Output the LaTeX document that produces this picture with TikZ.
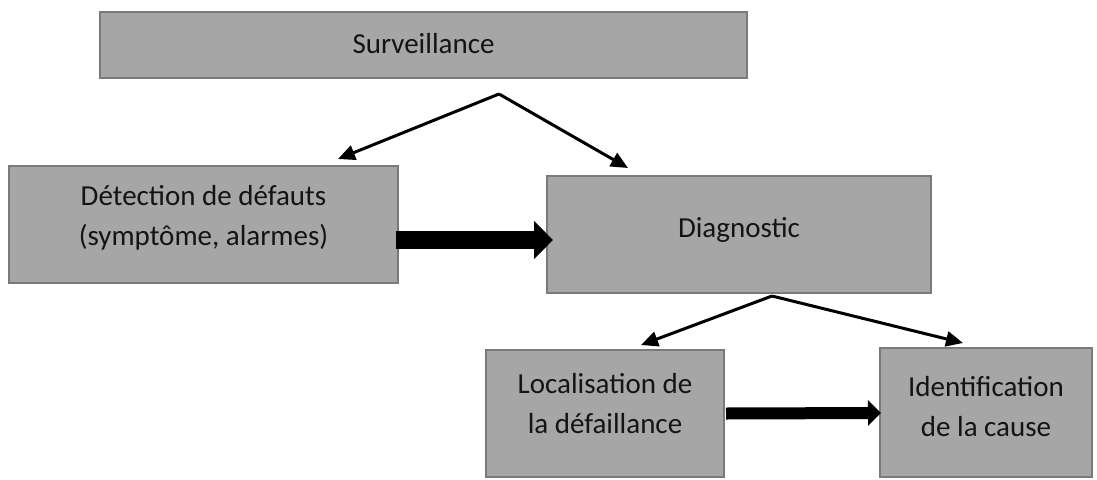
\documentclass[tikz,border=0pt]{standalone}
\usepackage{fontspec}
\setmainfont{Carlito}
\usetikzlibrary{arrows.meta}

\definecolor{boxfill}{HTML}{A6A6A6}
\definecolor{boxline}{HTML}{7A7A7A}
\definecolor{ink}{HTML}{141414}

\tikzset{
  box/.style={draw=boxline, fill=boxfill, line width=2.2pt, rectangle,
    anchor=north west, inner sep=0pt, outer sep=0pt},
  txt/.style={anchor=base, inner sep=0pt, text=ink,
    font=\fontsize{29}{40}\selectfont},
  link/.style={line width=3pt, draw=black,
    -{Triangle[length=17pt, width=15pt]}},
  fat/.style={draw=black, -{Triangle[length=19pt, width=37pt]}}
}

\begin{document}
\begin{tikzpicture}[x=1pt, y=-1pt]
  \useasboundingbox (0,0) rectangle (1097,479);

  % boxes
  \node[box, minimum width=647pt, minimum height=66pt]  (surv)  at (100,12)  {};
  \node[box, minimum width=389pt, minimum height=117pt] (det)   at (9,166)   {};
  \node[box, minimum width=384pt, minimum height=117pt] (diag)  at (547,176) {};
  \node[box, minimum width=238pt, minimum height=127pt] (loc)   at (486,350) {};
  \node[box, minimum width=212pt, minimum height=129pt] (ident) at (880,348) {};

  % labels
  \node[txt] (surv-t)   at (423.5,53) {Surveillance};
  \node[txt] (det-t1)   at (203.5,205) {Détection de défauts};
  \node[txt] (det-t2)   at (203.5,245) {(symptôme, alarmes)};
  \node[txt] (diag-t)   at (739,237)  {Diagnostic};
  \node[txt] (loc-t1)   at (605,393)  {Localisation de};
  \node[txt] (loc-t2)   at (605,433)  {la défaillance};
  \node[txt] (ident-t1) at (986,396)  {Identification};
  \node[txt] (ident-t2) at (986,436)  {de la cause};

  % branching points and arrow ends
  \coordinate (surv-split) at (499,94);
  \coordinate (det-in)     at (338,159);
  \coordinate (diag-in)    at (628,168);
  \coordinate (diag-split) at (772,296);
  \coordinate (loc-in)     at (641,345);
  \coordinate (ident-in)   at (963,343);

  \draw[link] (surv-split) -- (det-in);
  \draw[link] (surv-split) -- (diag-in);
  \draw[link] (diag-split) -- (loc-in);
  \draw[link] (diag-split) -- (ident-in);

  % heavy arrows between sibling steps
  \draw[fat, line width=18pt] ([xshift=-2pt, yshift=-15.5pt]det.east)
    -- ([xshift=6pt] diag.west |- 0,240);
  \draw[fat, line width=12pt, -{Triangle[length=13pt, width=25pt]}]
    ([xshift=2pt, yshift=-0.5pt]loc.east |- 0,413)
    -- ([xshift=1pt]ident.west |- 0,413);
\end{tikzpicture}
\end{document}
